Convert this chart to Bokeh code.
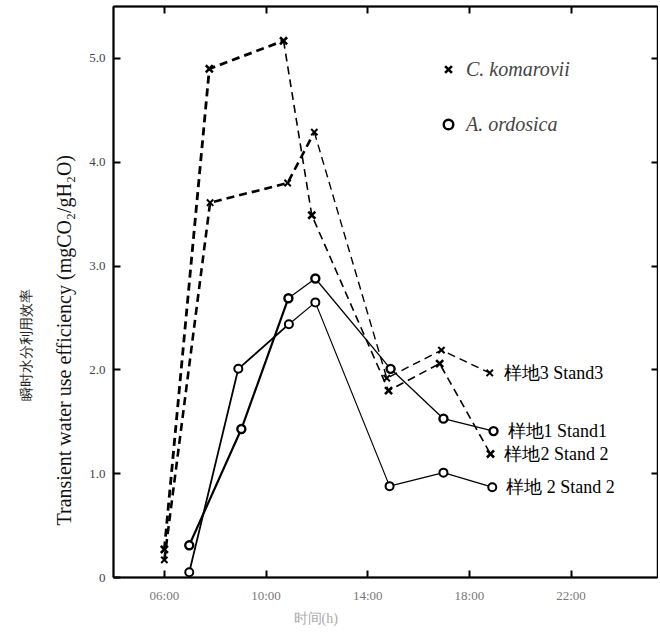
from bokeh.plotting import figure
from bokeh.models import Range1d, FixedTicker, LinearAxis, Legend, LegendItem, Title
from bokeh.core.properties import value
from bokeh.embed import file_html
from bokeh.resources import INLINE

# ---- data (time in hours, WUE in mgCO2/gH2O) ----
ck_s3_t = [6.0, 7.8, 10.85, 11.9, 14.75, 16.9, 18.8]
ck_s3_v = [0.17, 3.61, 3.80, 4.29, 1.92, 2.19, 1.97]
ck_s2_t = [6.0, 7.77, 10.69, 11.8, 14.82, 16.83, 18.83]
ck_s2_v = [0.27, 4.90, 5.17, 3.49, 1.80, 2.06, 1.19]
ao_s1_t = [6.98, 9.03, 10.88, 11.94, 14.9, 16.98, 18.95]
ao_s1_v = [0.31, 1.43, 2.69, 2.88, 2.01, 1.53, 1.41]
ao_s2_t = [6.98, 8.91, 10.9, 11.94, 14.86, 16.98, 18.9]
ao_s2_v = [0.05, 2.01, 2.44, 2.65, 0.88, 1.01, 0.87]

series_labels = ["样地3 Stand3", "样地1 Stand1", "样地2 Stand 2", "样地 2 Stand 2"]

x_ticks = [6, 10, 14, 18, 22]
x_tick_labels = ["06:00", "10:00", "14:00", "18:00", "22:00"]
y_ticks = [0, 1, 2, 3, 4, 5]
y_tick_labels = ["0", "1.0", "2.0", "3.0", "4.0", "5.0"]

y_title_cn = "瞬时水分利用效率"
y_title_en = "Transient water use efficiency (mgCO₂/gH₂O)"
x_title = "时间(h)"

SERIF = "Liberation Serif"

p = figure(width=658, height=630, x_range=Range1d(4.0, 25.4), y_range=Range1d(0, 5.5),
           output_backend="svg", toolbar_location=None,
           min_border_left=113, min_border_right=1, min_border_top=6, min_border_bottom=53)
p.grid.visible = False
p.outline_line_color = "black"
p.outline_line_width = 1.5
p.background_fill_color = "white"

# axes
xa = p.xaxis[0]
xa.ticker = FixedTicker(ticks=x_ticks)
xa.major_label_overrides = {t: l for t, l in zip(x_ticks, x_tick_labels)}
ya = p.yaxis[0]
ya.ticker = FixedTicker(ticks=y_ticks)
ya.major_label_overrides = {t: l for t, l in zip(y_ticks, y_tick_labels)}

for ax in (xa, ya):
    ax.minor_tick_line_color = None
    ax.major_tick_in = 7
    ax.major_tick_out = 0
    ax.axis_line_width = 2
    ax.major_tick_line_width = 2
    ax.major_label_text_font = SERIF
    ax.major_label_text_font_size = "13px"
xa.major_label_text_color = "#777777"
ya.major_label_text_color = "#444444"
xa.major_label_standoff = 10
ya.major_label_standoff = 8

top = LinearAxis(ticker=FixedTicker(ticks=x_ticks), major_tick_in=7, major_tick_out=0,
                 major_label_text_color=None, major_label_text_font_size="1px",
                 major_label_standoff=0, minor_tick_line_color=None,
                 axis_line_width=2, major_tick_line_width=2)
p.add_layout(top, "above")
right = LinearAxis(ticker=FixedTicker(ticks=y_ticks[1:]), major_tick_in=6, major_tick_out=0,
                   major_label_text_color=None, major_label_text_font_size="1px",
                   major_label_standoff=0, minor_tick_line_color=None,
                   axis_line_width=1, major_tick_line_width=2)
p.add_layout(right, "right")

# axis titles as side-panel titles (aligned from the frame start, then shifted)
p.add_layout(Title(text=y_title_en, align="left", offset=52, standoff=24,
                   text_font=SERIF, text_font_style="normal", text_font_size="20px",
                   text_color="#111111"), "left")
p.add_layout(Title(text=y_title_cn, align="left", offset=177, standoff=9,
                   text_font=SERIF, text_font_style="normal", text_font_size="14px",
                   text_color="#222222"), "left")
p.add_layout(Title(text=x_title, align="left", offset=180, standoff=6,
                   text_font=SERIF, text_font_style="normal", text_font_size="14px",
                   text_color="#aaaaaa"), "below")

DASH = "8 5"
# C. komarovii stand 3
p.line(ck_s3_t[:4], ck_s3_v[:4], line_color="black", line_width=2.6, line_dash=DASH)
p.line(ck_s3_t[3:], ck_s3_v[3:], line_color="black", line_width=1.4, line_dash=DASH)
# C. komarovii stand 2
p.line(ck_s2_t[:3], ck_s2_v[:3], line_color="black", line_width=2.8, line_dash=DASH)
p.line(ck_s2_t[2:], ck_s2_v[2:], line_color="black", line_width=1.6, line_dash=DASH)
# A. ordosica stand 1
p.line(ao_s1_t[:3], ao_s1_v[:3], line_color="black", line_width=2.2)
p.line(ao_s1_t[2:], ao_s1_v[2:], line_color="black", line_width=1.3)
# A. ordosica stand 2
p.line(ao_s2_t[:3], ao_s2_v[:3], line_color="black", line_width=1.8)
p.line(ao_s2_t[2:], ao_s2_v[2:], line_color="black", line_width=1.2)

rx1 = p.scatter(ck_s3_t, ck_s3_v, marker="x", size=9, line_color="black", line_width=2)
rx2 = p.scatter(ck_s2_t, ck_s2_v, marker="x", size=10, line_color="black", line_width=2.6)
ro1 = p.scatter(ao_s1_t, ao_s1_v, marker="circle", size=8, line_color="black",
                fill_color="white", line_width=2.4)
ro2 = p.scatter(ao_s2_t, ao_s2_v, marker="circle", size=8, line_color="black",
                fill_color="white", line_width=2)

# end-of-line labels
p.text(x=[ck_s3_t[-1], ao_s1_t[-1], ck_s2_t[-1], ao_s2_t[-1]],
       y=[ck_s3_v[-1], ao_s1_v[-1], ck_s2_v[-1], ao_s2_v[-1]],
       text=series_labels, x_offset=14, text_baseline="middle", text_align="left",
       text_font=value(SERIF), text_font_size="18px", text_color="black")

legend = Legend(items=[LegendItem(label="C. komarovii", renderers=[rx2]),
                       LegendItem(label="A. ordosica", renderers=[ro1])],
                location=(323, 441), border_line_color=None, background_fill_alpha=0,
                label_text_font=SERIF, label_text_font_style="italic",
                label_text_font_size="20px", glyph_width=24, glyph_height=24,
                label_height=20, spacing=31, padding=5, label_standoff=6, margin=0)
p.add_layout(legend)

open("out.html", "w").write(file_html(p, INLINE))
